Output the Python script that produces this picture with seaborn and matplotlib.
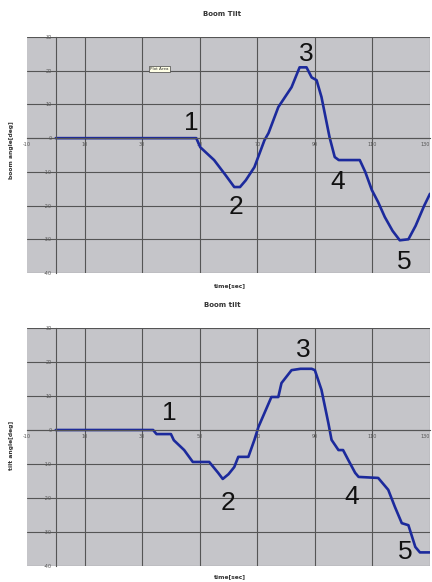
import matplotlib
matplotlib.use("Agg")
import matplotlib.pyplot as plt
import seaborn as sns
import pandas as pd
import numpy as np

# ---- data ----
top_t = [0, 10, 20, 30, 40, 48.8, 50.2, 55, 59, 62, 64, 66, 69, 72.5, 73.9, 77.3, 81.9, 84.7, 87.1,
         88.9, 90.6, 92.3, 95.1, 96.9, 98.3, 102, 105.6, 107.5, 109.8, 112, 114.3, 117, 119.5, 122.5,
         125, 128, 130]
top_angle = [0, 0, 0, 0, 0, 0, -2.7, -6.5, -11.0, -14.5, -14.5, -12.5, -8.6, -0.6, 1.5, 9.2, 15.1, 21.0, 21.0,
             18.0, 17.2, 12.2, 0.3, -5.6, -6.5, -6.5, -6.5, -10.0, -15.4, -19.0, -23.4, -27.5, -30.3, -30.0,
             -26.0, -20.0, -16.5]

bot_t = [0, 10, 20, 33.8, 35, 40, 41, 44.6, 47.6, 53.3, 56.4, 58, 60, 62, 63.4, 66.9, 69, 70.4, 72.5,
         74.9, 77.3, 78.4, 81.9, 85, 88.9, 90, 92.3, 94.7, 95.8, 98.2, 99.8, 101.6, 104, 105.2, 112,
         115.5, 117.8, 120.2, 122.5, 124.9, 126.5, 130]
bot_angle = [0, 0, 0, 0, -1.2, -1.2, -3.0, -5.9, -9.4, -9.4, -12.6, -14.4, -13.0, -10.9, -7.9, -7.9, -2.9, 0.9, 5.0,
             9.7, 9.7, 13.8, 17.6, 18.0, 18.0, 17.6, 11.8, 2.0, -2.9, -5.9, -5.9, -8.8, -12.6, -13.8, -14.1,
             -17.6, -22.6, -27.4, -28.0, -34.4, -36.0, -36.0]

top_marks = ["1", "2", "3", "4", "5"]
top_mark_t = [47, 62.7, 87, 98, 121]
top_mark_y = [4.5, -20.5, 25, -13, -36.8]
bot_mark_t = [39.5, 60, 86, 102.8, 121.3]
bot_mark_y = [5, -21.5, 23.5, -19.6, -36]

x_ticks = [-10, 10, 30, 50, 70, 90, 110, 130]
y_ticks = [-40, -30, -20, -10, 0, 10, 20, 30]

sns.set_theme(style="white")
plt.rcParams['font.family'] = ['DejaVu Sans']

fig = plt.figure(figsize=(4.32, 5.82), dpi=100)
ax1 = fig.add_axes([27/432, 1-273/582, (430-27)/432, (273-37)/582])
ax2 = fig.add_axes([27/432, 1-566/582, (430-27)/432, (566-328)/582])

BG = "#c5c5c9"
GRID = "#555555"
LINE = "#1c2a9c"

def style(ax, t, a, mt, my):
    ax.set_facecolor(BG)
    df = pd.DataFrame({"t": t, "a": a})
    sns.lineplot(data=df, x="t", y="a", ax=ax, color=LINE, linewidth=1.9, estimator=None, sort=False)
    ax.set_xlim(-10, 130)
    ax.set_ylim(-40, 30)
    for gx in x_ticks[1:]:
        ax.axvline(gx, color=GRID, lw=0.8, zorder=0.5)
    for gy in y_ticks:
        ax.axhline(gy, color=GRID, lw=0.8, zorder=0.5)
    for s in ["top", "right"]:
        ax.spines[s].set_visible(False)
    ax.spines["left"].set_position(("data", 0))
    ax.spines["bottom"].set_position(("data", 0))
    for s in ["left", "bottom"]:
        ax.spines[s].set_color(GRID)
        ax.spines[s].set_linewidth(0.8)
    ax.set_xticks(x_ticks)
    ax.set_yticks(y_ticks)
    ax.set_xticklabels([str(v) for v in x_ticks])
    ax.set_yticklabels([str(v) for v in y_ticks])
    ax.tick_params(axis="both", labelsize=3.5, colors="#555555", length=2, width=0.6, pad=1,
                   direction="out")
    ax.get_xticklabels()[-1].set_horizontalalignment("right")
    ax.set_xlabel("")
    ax.set_ylabel("")
    for m, x, y in zip(top_marks, mt, my):
        ax.text(x, y, m, fontsize=19, color="#111111", ha="center", va="center",
                family="Liberation Sans")

style(ax1, top_t, top_angle, top_mark_t, top_mark_y)
style(ax2, bot_t, bot_angle, bot_mark_t, bot_mark_y)

fig.text(222/432, 1-14/582, "Boom Tilt", fontsize=5, fontweight="bold", color="#333333", ha="center", va="center")
fig.text(222/432, 1-305/582, "Boom tilt", fontsize=5, fontweight="bold", color="#333333", ha="center", va="center")
fig.text(12/432, 1-150/582, "boom angle[deg]", fontsize=4.3, fontweight="bold", color="#333333",
         rotation=90, ha="center", va="center")
fig.text(12/432, 1-445/582, "tilt angle[deg]", fontsize=4.3, fontweight="bold", color="#333333",
         rotation=90, ha="center", va="center")
fig.text(230/432, 1-286/582, "time[sec]", fontsize=4.3, fontweight="bold", color="#333333", ha="center", va="center")
fig.text(230/432, 1-577/582, "time[sec]", fontsize=4.3, fontweight="bold", color="#333333", ha="center", va="center")

ax1.text(36, 20.5, "Plot Area", fontsize=3, color="#333333", ha="center", va="center",
         bbox=dict(boxstyle="square,pad=0.3", fc="#ffffe6", ec="#444444", lw=0.5))

fig.savefig("out.png", dpi=100)
